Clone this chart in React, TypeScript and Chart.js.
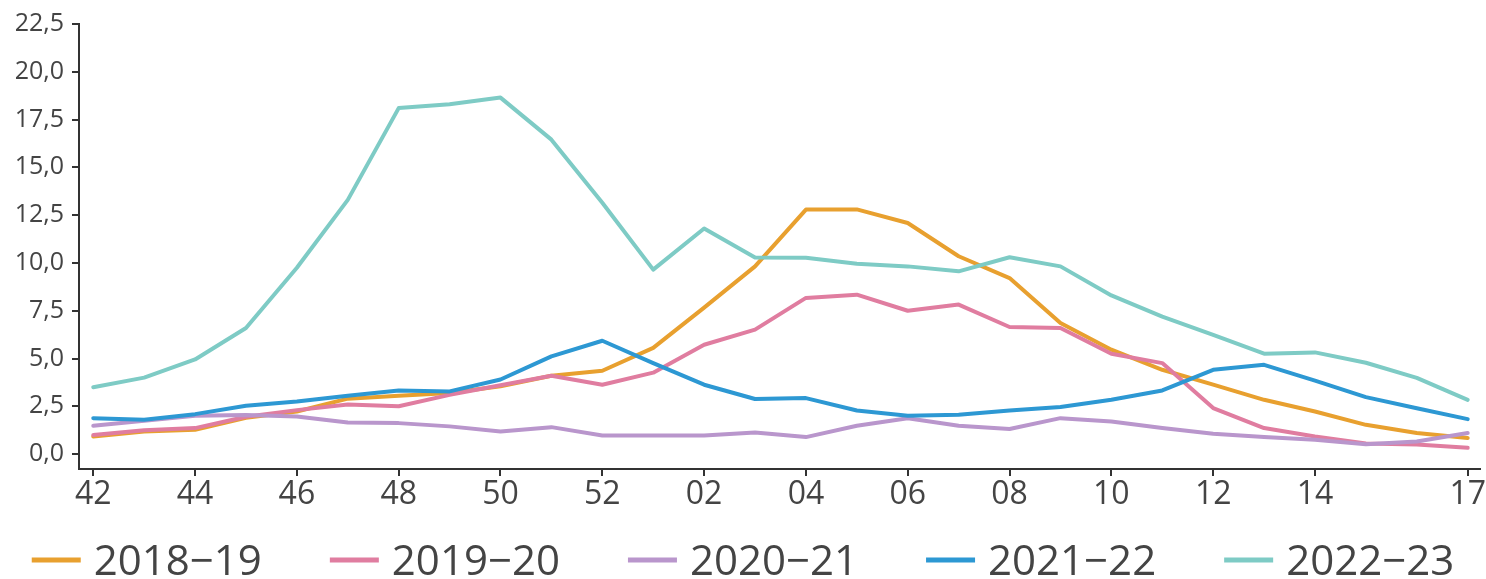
import React, { useEffect, useRef } from "react";
import { Chart, registerables } from "chart.js";

Chart.register(...registerables);

const weeks = [
  "42", "43", "44", "45", "46", "47", "48", "49", "50", "51", "52",
  "01", "02", "03", "04", "05", "06", "07", "08", "09", "10", "11",
  "12", "13", "14", "15", "16", "17",
];
const shownTickIndices = [0, 2, 4, 6, 8, 10, 12, 14, 16, 18, 20, 22, 24, 27];
const yTicks = [0, 2.5, 5, 7.5, 10, 12.5, 15, 17.5, 20, 22.5];

const seriesNames = ["2018−19", "2019−20", "2020−21", "2021−22", "2022−23"];
const seriesColors = ["#E8A02F", "#E07DA0", "#B996CC", "#2D98D3", "#7ECBC5"];

const s2018 = [0.92, 1.18, 1.27, 1.9, 2.23, 2.9, 3.05, 3.2, 3.55, 4.1, 4.36, 5.56, 7.66, 9.82, 12.79, 12.8, 12.09, 10.35, 9.21, 6.86, 5.46, 4.41, 3.63, 2.84, 2.23, 1.53, 1.1, 0.84];
const s2019 = [1.0, 1.25, 1.36, 1.95, 2.3, 2.6, 2.5, 3.1, 3.6, 4.1, 3.63, 4.26, 5.72, 6.51, 8.17, 8.34, 7.5, 7.82, 6.65, 6.6, 5.25, 4.76, 2.41, 1.36, 0.92, 0.55, 0.5, 0.33];
const s2020 = [1.48, 1.75, 2.0, 2.05, 1.97, 1.65, 1.62, 1.45, 1.18, 1.41, 0.97, 0.97, 0.97, 1.13, 0.89, 1.48, 1.88, 1.48, 1.31, 1.88, 1.71, 1.36, 1.06, 0.89, 0.75, 0.52, 0.66, 1.1];
const s2021 = [1.88, 1.8, 2.09, 2.53, 2.75, 3.05, 3.33, 3.28, 3.9, 5.11, 5.93, 4.76, 3.63, 2.88, 2.93, 2.28, 2.0, 2.06, 2.28, 2.46, 2.84, 3.33, 4.41, 4.67, 3.84, 2.98, 2.4, 1.83];
const s2022 = [3.5, 4.0, 4.95, 6.6, 9.75, 13.3, 18.1, 18.3, 18.65, 16.45, 13.15, 9.65, 11.8, 10.28, 10.27, 9.96, 9.82, 9.56, 10.3, 9.82, 8.3, 7.19, 6.24, 5.25, 5.32, 4.78, 3.99, 2.84];
const seriesValues = [s2018, s2019, s2020, s2021, s2022];

const FONT = "'Open Sans', 'Noto Sans', sans-serif";
const TEXT_COLOR = "#444";
const AXIS_COLOR = "#333";

const legendPlugin = {
  id: "customLegend",
  afterDraw(chart: any) {
    const ctx = chart.ctx;
    const datasets = chart.data.datasets;
    ctx.save();
    ctx.font = `42px ${FONT}`;
    const boxW = 49;
    const boxH = 5;
    const gap = 13;
    const spacing = 68;
    const widths = datasets.map((d: any) => boxW + gap + ctx.measureText(d.label).width);
    const total = widths.reduce((a: number, b: number) => a + b, 0) + spacing * (datasets.length - 1);
    let x = (chart.width - total) / 2;
    const baseline = 575;
    const boxCenter = 560;
    datasets.forEach((d: any, i: number) => {
      ctx.fillStyle = d.borderColor;
      ctx.fillRect(x, boxCenter - boxH / 2, boxW, boxH);
      ctx.fillStyle = TEXT_COLOR;
      ctx.textBaseline = "alphabetic";
      ctx.textAlign = "left";
      ctx.fillText(d.label, x + boxW + gap, baseline);
      x += widths[i] + spacing;
    });
    ctx.restore();
  },
};

export default function App() {
  const canvasRef = useRef<HTMLCanvasElement | null>(null);

  useEffect(() => {
    if (!canvasRef.current) return;
    const datasets = seriesNames.map((name, i) => ({
      label: name,
      data: seriesValues[i].map((v, j) => ({ x: j, y: v })),
      borderColor: seriesColors[i],
      backgroundColor: seriesColors[i],
      borderWidth: 4,
      pointRadius: 0,
      tension: 0,
      borderJoinStyle: "round" as const,
      borderCapStyle: "round" as const,
      order: seriesNames.length - i,
    }));

    const chart = new Chart(canvasRef.current, {
      type: "line",
      data: { datasets },
      options: {
        responsive: false,
        animation: false,
        layout: { padding: { top: 24, right: 0, left: 0, bottom: 65 } },
        plugins: { legend: { display: false }, tooltip: { enabled: false } },
        scales: {
          x: {
            type: "linear",
            min: -0.28,
            max: 27.25,
            afterBuildTicks: (scale: any) => {
              scale.ticks = shownTickIndices.map((v) => ({ value: v }));
            },
            afterFit: (scale: any) => {
              scale.height = 45;
            },
            ticks: {
              autoSkip: false,
              maxRotation: 0,
              padding: 0,
              color: TEXT_COLOR,
              font: { family: FONT, size: 32 },
              callback: (value: any) => weeks[Number(value)] ?? "",
            },
            grid: { drawOnChartArea: false, drawTicks: true, tickLength: 7, color: AXIS_COLOR, lineWidth: 2 },
            border: { display: true, color: AXIS_COLOR, width: 2 },
          },
          y: {
            type: "linear",
            min: -0.78,
            max: 22.5,
            afterBuildTicks: (scale: any) => {
              scale.ticks = yTicks.map((v) => ({ value: v }));
            },
            afterFit: (scale: any) => {
              scale.width = 79;
            },
            ticks: {
              padding: 8,
              color: TEXT_COLOR,
              font: { family: FONT, size: 25 },
              callback: (value: any) => Number(value).toFixed(1).replace(".", ","),
            },
            grid: { drawOnChartArea: false, drawTicks: true, tickLength: 7, color: AXIS_COLOR, lineWidth: 2 },
            border: { display: true, color: AXIS_COLOR, width: 2 },
          },
        },
      },
      plugins: [legendPlugin],
    });
    return () => chart.destroy();
  }, []);

  return (
    <div style={{ position: "absolute", left: 0, top: 0, width: 1486, height: 579, background: "#fff" }}>
      <canvas ref={canvasRef} width={1486} height={579} style={{ display: "block" }} />
    </div>
  );
}
